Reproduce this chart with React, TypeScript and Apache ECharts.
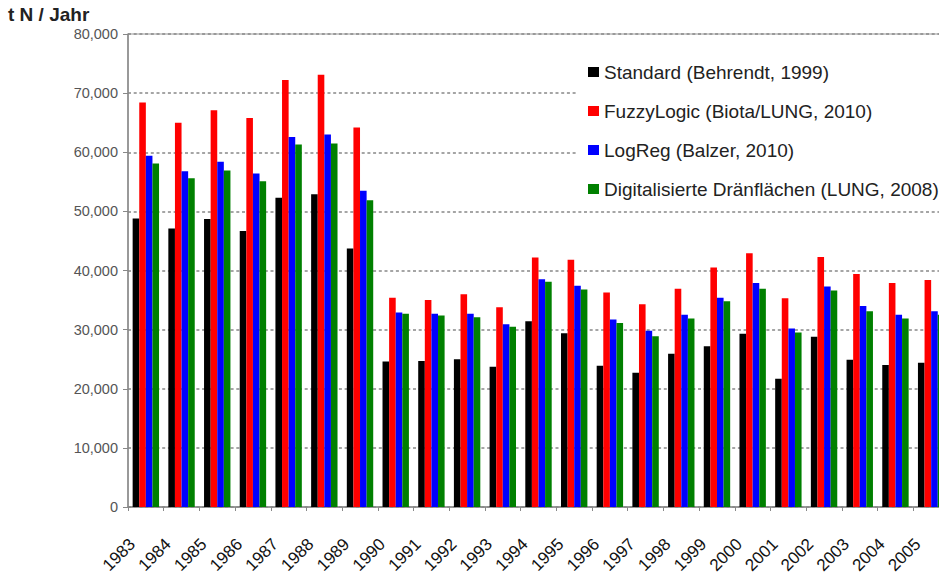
import React, { useEffect, useRef } from "react";
import * as echarts from "echarts";

const years = ["1983","1984","1985","1986","1987","1988","1989","1990","1991","1992","1993","1994","1995","1996","1997","1998","1999","2000","2001","2002","2003","2004","2005"];
const standard = [48800, 47100, 48700, 46700, 52300, 52900, 43700, 24600, 24700, 25000, 23700, 31400, 29400, 23900, 22700, 25900, 27200, 29300, 21700, 28800, 24900, 24000, 24400];
const fuzzy = [68400, 65000, 67100, 65800, 72200, 73100, 64200, 35400, 35000, 36000, 33800, 42200, 41800, 36300, 34300, 36900, 40500, 42900, 35300, 42300, 39400, 37900, 38400];
const logreg = [59400, 56800, 58400, 56400, 62600, 63000, 53500, 32900, 32700, 32700, 30900, 38500, 37400, 31700, 29800, 32500, 35400, 37900, 30200, 37300, 34000, 32500, 33100];
const drain = [58100, 55600, 56900, 55100, 61300, 61500, 51900, 32700, 32400, 32100, 30500, 38100, 36800, 31100, 28900, 31900, 34800, 36900, 29500, 36600, 33100, 31900, 32500];
const seriesNames = [
  "Standard (Behrendt, 1999)",
  "FuzzyLogic (Biota/LUNG, 2010)",
  "LogReg (Balzer, 2010)",
  "Digitalisierte Dränflächen (LUNG, 2008)",
];
const seriesColors = ["#000000", "#ff0000", "#0000ff", "#008000"];
const yTitle = "t N / Jahr";

const FONT = "'Liberation Sans', Arial, sans-serif";

export default function App() {
  const ref = useRef<HTMLDivElement>(null);
  useEffect(() => {
    if (!ref.current) return;
    const chart = echarts.init(ref.current, undefined, { renderer: "svg" });
    const values = [standard, fuzzy, logreg, drain];
    chart.setOption({
      animation: false,
      backgroundColor: "#ffffff",
      textStyle: { fontFamily: FONT },
      title: {
        text: yTitle,
        left: 8,
        top: 5,
        padding: 0,
        textStyle: { fontFamily: FONT, fontSize: 19, fontWeight: "bold", color: "#222" },
      },
      legend: {
        orient: "vertical",
        left: 578,
        top: 52,
        padding: [10, 10, 6, 10],
        backgroundColor: "#ffffff",
        itemWidth: 11,
        itemHeight: 10,
        itemGap: 19,
        icon: "rect",
        data: seriesNames,
        textStyle: { fontFamily: FONT, fontSize: 19, color: "#222", lineHeight: 20 },
      },
      grid: {
        left: 128,
        top: 34,
        right: 0,
        bottom: 70,
        show: true,
        borderColor: "#999",
        borderWidth: 1,
        backgroundColor: "transparent",
      },
      xAxis: {
        type: "category",
        data: years,
        boundaryGap: true,
        axisLine: { lineStyle: { color: "#888", width: 1.5 } },
        axisTick: { show: true, length: 4, interval: 0, lineStyle: { color: "#888" } },
        axisLabel: {
          interval: 0,
          rotate: 45,
          margin: 21,
          padding: [0, 19, 0, 0],
          fontFamily: FONT,
          fontSize: 17,
          color: "#111",
        },
        splitLine: { show: false },
      },
      yAxis: {
        type: "value",
        min: 0,
        max: 80000,
        interval: 10000,
        axisLine: { show: true, lineStyle: { color: "#888", width: 1.5 } },
        axisTick: { show: true, length: 5, inside: false, lineStyle: { color: "#888" } },
        axisLabel: {
          margin: 10,
          fontFamily: FONT,
          fontSize: 14.5,
          color: "#555",
          formatter: (v: number) => v.toLocaleString("en-US"),
        },
        splitLine: { show: true, lineStyle: { color: "#888", type: [3, 2.7], width: 1.5 } },
      },
      series: seriesNames.map((name, i) => ({
        name,
        type: "bar",
        data: values[i],
        barWidth: 6.6,
        barGap: "0%",
        itemStyle: { color: seriesColors[i] },
      })),
    });
    return () => chart.dispose();
  }, []);
  return (
    <div
      style={{ position: "absolute", left: 0, top: 0, width: 939, height: 577, overflow: "hidden", background: "#fff" }}
    >
      <div ref={ref} style={{ width: 949, height: 577 }} />
    </div>
  );
}
